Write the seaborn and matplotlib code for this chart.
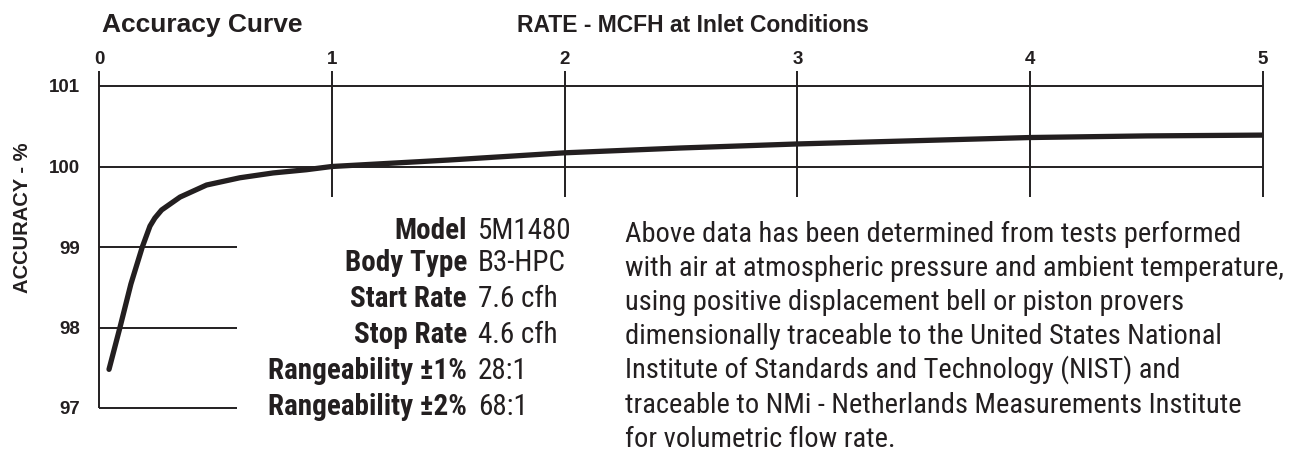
import pandas as pd
import seaborn as sns
import matplotlib
matplotlib.use("Agg")
import matplotlib.pyplot as plt

# values
rate = [0.043, 0.090, 0.137, 0.186, 0.219, 0.240, 0.269, 0.348, 0.462, 0.605,
        0.748, 0.891, 1.0, 1.5, 2.0, 2.5, 3.0, 3.5, 4.0, 4.5, 5.0]
accuracy = [97.48, 98.0, 98.54, 99.0, 99.26, 99.36, 99.46, 99.62, 99.77, 99.86,
            99.92, 99.96, 100.0, 100.08, 100.17, 100.23, 100.28, 100.32, 100.36, 100.38, 100.39]
x_ticks = [0, 1, 2, 3, 4, 5]
y_ticks = [97, 98, 99, 100, 101]

spec_labels = ["Model", "Body Type", "Start Rate", "Stop Rate",
               "Rangeability ±1%", "Rangeability ±2%"]
spec_values = ["5M1480", "B3-HPC", "7.6 cfh", "4.6 cfh", "28:1", "68:1"]

note_lines = [
    "Above data has been determined from tests performed",
    "with air at atmospheric pressure and ambient temperature,",
    "using positive displacement bell or piston provers",
    "dimensionally traceable to the United States National",
    "Institute of Standards and Technology (NIST) and",
    "traceable to NMi - Netherlands Measurements Institute",
    "for volumetric flow rate.",
]

sns.set_theme(style="white")
plt.rcParams["font.family"] = ["Liberation Sans", "DejaVu Sans"]
INK = "#231f20"
NARROW = ["Roboto Condensed", "Liberation Sans Narrow", "DejaVu Sans"]

W, H = 1289, 453
fig = plt.figure(figsize=(W / 100, H / 100), dpi=100)
fig.patch.set_facecolor("white")
ax = fig.add_axes([99 / W, 1 - 408 / H, (1263 - 99) / W, (408 - 86) / H])

df = pd.DataFrame({"rate": rate, "accuracy": accuracy})
sns.lineplot(data=df, x="rate", y="accuracy", ax=ax, color=INK, linewidth=3.8,
             sort=False, zorder=3)
ax.set_xlim(0, 5)
ax.set_ylim(97, 101)

# partial grid like the printed chart
grid = dict(color=INK, linewidth=1.4, clip_on=False, zorder=2)
ax.hlines([100, 101], 0, 5, **grid)
ax.hlines([97, 98, 99], 0, 0.593, **grid)
ax.vlines(0, 97, 101, **grid)
ax.vlines(x_ticks[1:], 99.62, 101, **grid)

for s in ax.spines.values():
    s.set_visible(False)
ax.set_facecolor("none")
ax.set_xlabel("")
ax.set_ylabel("")

ax.xaxis.tick_top()
ax.set_xticks(x_ticks, labels=[str(t) for t in x_ticks], fontweight="bold")
ax.set_yticks(y_ticks, labels=[str(t) for t in y_ticks], fontweight="bold")
ax.tick_params(axis="x", length=10.8, width=1.4, color=INK, pad=2,
               labelsize=13.5, labelcolor=INK)
ax.tick_params(axis="y", length=9.4, width=1.4, color=INK, pad=4,
               labelsize=13.5, labelcolor=INK)

fig.text(102 / W, 1 - 32 / H, "Accuracy Curve", fontsize=19, fontweight="bold",
         color=INK, va="baseline")
fig.text(517 / W, 1 - 32 / H, "RATE - MCFH at Inlet Conditions", fontsize=16.5,
         fontweight="bold", color=INK, va="baseline")
fig.text(23 / W, 1 - 218 / H, "ACCURACY - %", rotation=90, fontsize=14.5,
         fontweight="bold", color=INK, ha="center", va="center")

spec_base = [239, 271, 307, 343, 379, 415]
for lab, val, yb in zip(spec_labels, spec_values, spec_base):
    fig.text(467 / W, 1 - yb / H, lab, family=NARROW, fontweight="bold",
             fontsize=21, color=INK, ha="right", va="baseline")
    fig.text(478 / W, 1 - yb / H, val, family=NARROW, fontsize=21,
             color=INK, ha="left", va="baseline")

note_base = [242, 276, 310, 344, 378, 413, 447]
for line, yb in zip(note_lines, note_base):
    fig.text(625 / W, 1 - yb / H, line, family=NARROW, fontsize=20.5,
             color=INK, ha="left", va="baseline")

fig.savefig("out.png", dpi=100, facecolor="white")
